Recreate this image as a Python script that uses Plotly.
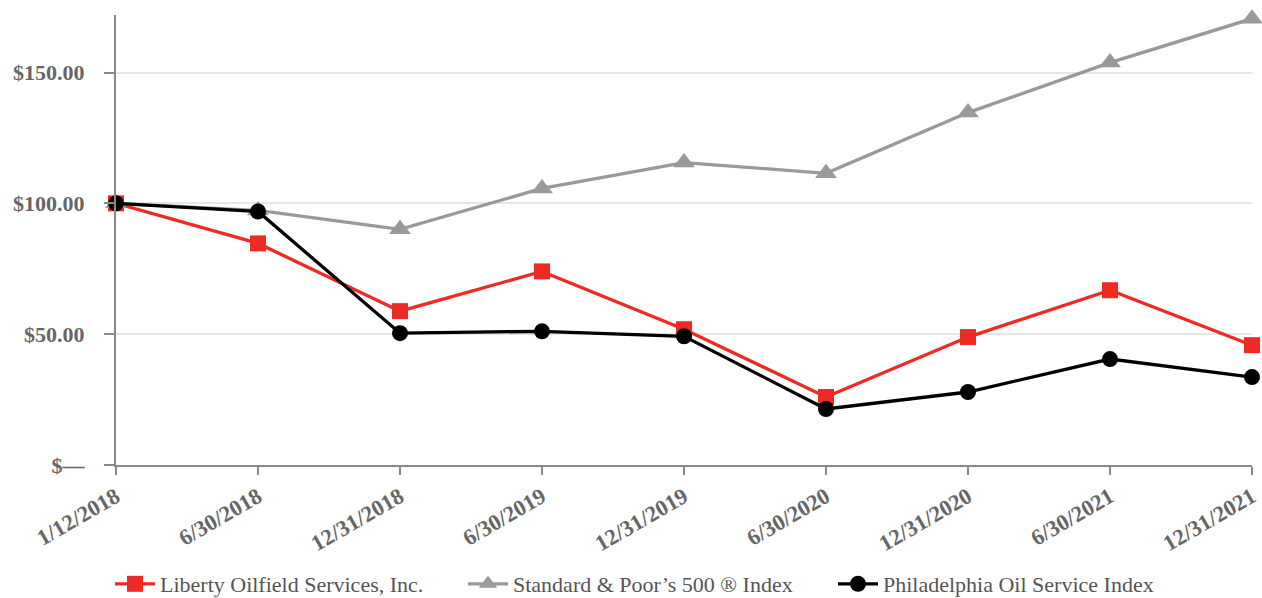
import plotly.graph_objects as go

dates = ["1/12/2018", "6/30/2018", "12/31/2018", "6/30/2019", "12/31/2019",
         "6/30/2020", "12/31/2020", "6/30/2021", "12/31/2021"]
liberty = [100.0, 84.7, 58.8, 74.0, 51.9, 26.0, 48.9, 66.8, 45.8]
sp500 = [100.0, 97.3, 90.1, 105.7, 115.6, 111.5, 134.7, 153.8, 170.6]
osx = [100.0, 96.9, 50.4, 51.1, 49.2, 21.4, 27.9, 40.5, 33.6]

ytick_vals = [0, 50, 100, 150]
ytick_text = ["$—", "$50.00", "$100.00", "$150.00"]

series = [
    ("Liberty Oilfield Services, Inc.", liberty, "#ee2a24", "square", 16, "legend", 118),
    ("Standard & Poor\u2019s 500 \u00ae Index", sp500, "#999999", "triangle-up", 19, "legend2", 471),
    ("Philadelphia Oil Service Index", osx, "#000000", "circle", 16, "legend3", 841),
]

fig = go.Figure()
legend_cfg = {}
for name, vals, color, sym, size, leg, lx in series:
    fig.add_trace(go.Scatter(
        x=list(range(len(dates))), y=vals, name=name, mode="lines+markers",
        line=dict(color=color, width=3.3),
        marker=dict(symbol=sym, size=size, color=color),
        cliponaxis=False, legend=leg,
    ))
    legend_cfg[leg] = dict(
        orientation="h", xref="container", yref="container",
        x=(lx - 8) / 1262, xanchor="left", y=1 - 563 / 598, yanchor="top",
        font=dict(size=22, color="#555555"), itemwidth=40,
        bgcolor="rgba(0,0,0,0)",
    )

fig.update_layout(
    width=1262, height=598,
    margin=dict(l=116, r=10, t=15, b=133, autoexpand=False),
    paper_bgcolor="white", plot_bgcolor="white",
    font=dict(family="Liberation Serif, Times New Roman, serif"),
    showlegend=True,
    xaxis=dict(
        range=[0, 8], tickmode="array", tickvals=list(range(len(dates))), ticktext=dates,
        tickangle=-30, showgrid=False, zeroline=False, automargin=False,
        showline=True, linecolor="#888888", linewidth=2,
        ticks="outside", ticklen=8, tickwidth=2, tickcolor="#888888",
        tickfont=dict(size=22.5, color="#666666", family="Liberation Serif", weight="bold"),
    ),
    yaxis=dict(
        range=[0, 172], tickmode="array", tickvals=ytick_vals, ticktext=ytick_text,
        showgrid=True, gridcolor="#e6e6e6", gridwidth=2, zeroline=False, automargin=False,
        showline=True, linecolor="#888888", linewidth=2,
        ticks="outside", ticklen=10, tickwidth=2, tickcolor="#888888",
        ticklabelstandoff=15,
        tickfont=dict(size=22, color="#666666", family="Liberation Serif", weight="bold"),
    ),
    **legend_cfg,
)

fig.write_html("out.html")
